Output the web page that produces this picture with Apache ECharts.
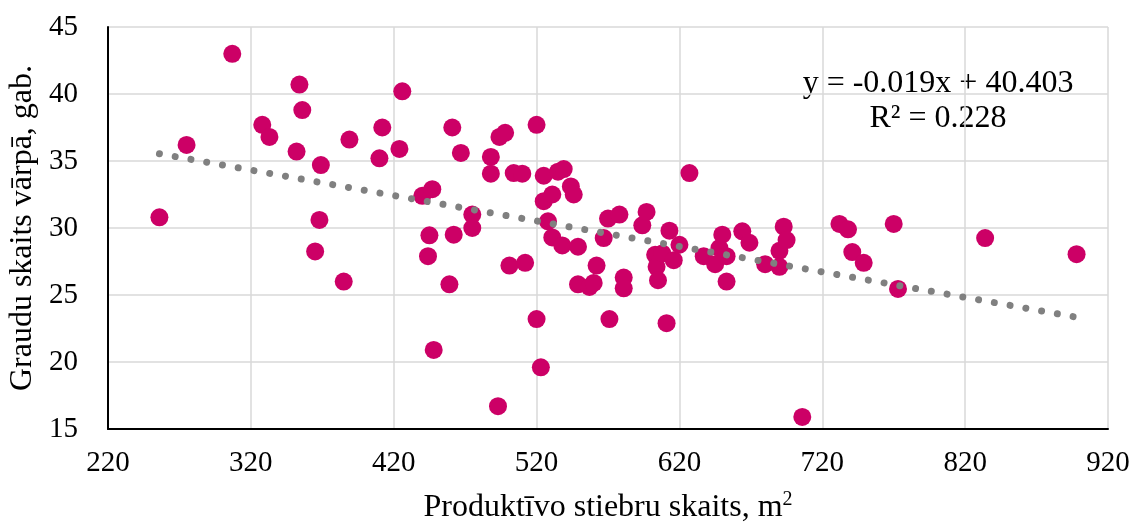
<!DOCTYPE html>
<html>
<head>
<meta charset="utf-8">
<script src="https://cdn.jsdelivr.net/npm/echarts@6/dist/echarts.min.js"></script>
<style>
  html, body { margin: 0; padding: 0; background: #fff; }
  #chart { width: 1134px; height: 524px; }
</style>
</head>
<body>
<div id="chart"></div>
<script>
// Productive stems per m² vs. grains per ear
const stems = [256, 275, 307, 328, 333, 352, 354, 356, 365, 368, 369, 385, 389, 410, 412, 424, 426,
  440, 444, 445, 447, 448, 459, 461, 462, 467, 475, 475, 488, 488, 493, 494, 498, 501, 504, 510,
  512, 520, 520, 523, 525, 525, 528, 531, 531, 535, 539, 538, 544, 546, 549, 549, 557, 560, 562,
  567, 570, 571, 578, 581, 581, 594, 597, 603, 604, 605, 608, 611, 613, 616, 620, 627, 637, 645,
  648, 650, 653, 653, 664, 669, 680, 690, 690, 693, 695, 706, 732, 738, 741, 749, 770, 773, 834, 898];
const grains = [30.8, 36.2, 43.0, 37.7, 36.8, 35.7, 40.7, 38.8, 28.25, 30.6, 34.7, 26.0, 36.6, 35.2,
  37.5, 35.9, 40.2, 32.4, 27.9, 29.45, 32.9, 20.9, 25.8, 37.5, 29.5, 35.6, 31.0, 30.0, 35.3, 34.05,
  16.7, 36.8, 37.1, 27.2, 34.1, 34.05, 27.4, 37.7, 23.2, 19.6, 33.9, 32.0, 30.5, 32.5, 29.3, 34.2,
  34.4, 28.7, 33.1, 32.5, 28.6, 25.8, 25.6, 25.9, 27.2, 29.25, 30.7, 23.2, 31.0, 26.3, 25.5, 30.2,
  31.2, 28.0, 27.1, 26.1, 28.1, 22.9, 29.8, 27.6, 28.75, 34.1, 27.9, 27.3, 28.5, 29.5, 27.9, 26.0,
  29.75, 28.9, 27.3, 28.3, 27.1, 30.1, 29.1, 15.9, 30.3, 29.9, 28.2, 27.4, 30.3, 25.45, 29.25, 28.05];

// Linear trend as stated in the equation label
const slope = -0.019;
const intercept = 40.403;
const rSquared = 0.228;

const xTicks = [220, 320, 420, 520, 620, 720, 820, 920];
const yTicks = [15, 20, 25, 30, 35, 40, 45];

const points = stems.map((x, i) => [x, grains[i]]);
const xMin = Math.min(...stems), xMax = Math.max(...stems);
const trend = [xMin, xMax].map(x => [x, slope * x + intercept]);

const serif = '"Liberation Serif", "Times New Roman", serif';

const chart = echarts.init(document.getElementById('chart'), null, { renderer: 'canvas' });
chart.setOption({
  animation: false,
  backgroundColor: '#ffffff',
  grid: { left: 108, right: 26, top: 27, bottom: 95, containLabel: false, outerBoundsMode: 'none' },
  xAxis: {
    type: 'value',
    min: xTicks[0], max: xTicks[xTicks.length - 1], interval: 100,
    axisLine: { show: true, onZero: false, lineStyle: { color: '#000', width: 2 } },
    axisTick: { show: false },
    splitLine: { show: true, lineStyle: { color: '#d9d9d9', width: 1.5 } },
    axisLabel: { color: '#000', fontFamily: serif, fontSize: 29, margin: 20 },
    name: 'Produktīvo stiebru skaits, m{sup|2}',
    nameLocation: 'middle',
    nameGap: 61,
    nameTextStyle: {
      color: '#000', fontFamily: serif, fontSize: 32, lineHeight: 35,
      rich: { sup: { fontFamily: serif, fontSize: 20, color: '#000', verticalAlign: 'top', lineHeight: 35 } }
    }
  },
  yAxis: {
    type: 'value',
    min: yTicks[0], max: yTicks[yTicks.length - 1], interval: 5,
    axisLine: { show: true, onZero: false, lineStyle: { color: '#000', width: 2 } },
    axisTick: { show: false },
    splitLine: { show: true, lineStyle: { color: '#d9d9d9', width: 1.5 } },
    axisLabel: { color: '#000', fontFamily: serif, fontSize: 29, margin: 30 },
    name: 'Graudu skaits vārpā, gab.',
    nameLocation: 'middle',
    nameGap: 66,
    nameTextStyle: { color: '#000', fontFamily: serif, fontSize: 32 }
  },
  series: [
    {
      type: 'scatter',
      data: points,
      symbol: 'circle',
      symbolSize: 18,
      itemStyle: { color: '#cc0066', opacity: 1 },
      z: 2
    },
    {
      type: 'line',
      data: trend,
      showSymbol: false,
      symbol: 'none',
      lineStyle: { color: '#808080', width: 7, type: [0.001, 16], cap: 'round' },
      z: 3,
      silent: true
    }
  ],
  graphic: [
    {
      type: 'text',
      x: 938,
      y: 84,
      style: {
        text: 'y = ' + slope.toFixed(3) + 'x + ' + intercept.toFixed(3),
        font: '32px ' + serif, fill: '#000', align: 'center', verticalAlign: 'middle'
      }
    },
    {
      type: 'text',
      x: 938,
      y: 119,
      style: {
        text: 'R² = ' + rSquared.toFixed(3),
        font: '32px ' + serif, fill: '#000', align: 'center', verticalAlign: 'middle'
      }
    }
  ]
});
</script>
</body>
</html>
